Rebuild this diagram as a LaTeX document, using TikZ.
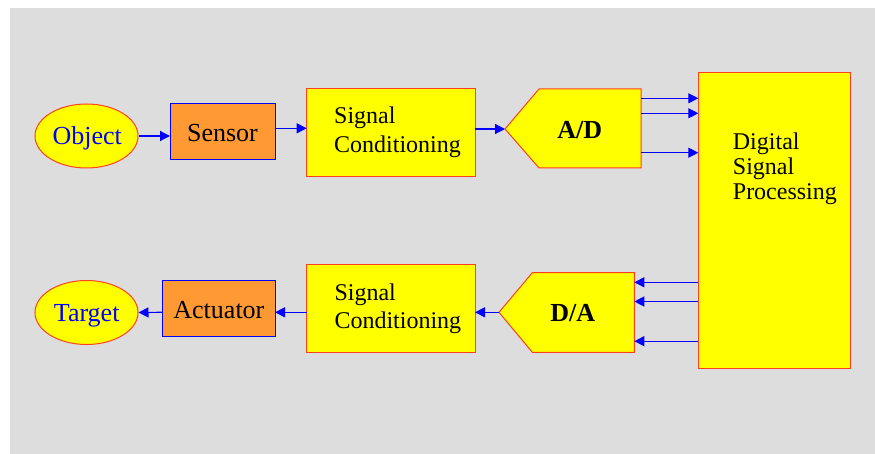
\documentclass[tikz,border=0pt]{standalone}
\usepackage{fontspec}
\setmainfont{Liberation Serif}
\usetikzlibrary{arrows.meta,shapes.geometric}
\definecolor{bggray}{HTML}{DDDDDD}
\definecolor{yel}{HTML}{FFFF00}
\definecolor{redb}{HTML}{FF4020}
\definecolor{orng}{HTML}{FF9933}
\definecolor{blu}{HTML}{0000FF}
\tikzset{
  ybox/.style={draw=redb,fill=yel,line width=1pt},
  obox/.style={draw=blu,fill=orng,line width=1pt},
  yell/.style={ellipse,draw=redb,fill=yel,line width=1pt,inner sep=0pt},
  big/.style={font=\fontsize{26}{31}\selectfont,inner sep=0pt,anchor=base},
  mid/.style={font=\fontsize{24}{28.7}\selectfont,inner sep=0pt,anchor=base west},
  arr/.style={draw=blu,line width=1.2pt,-{Triangle[length=10pt,width=10pt]}}
}
\begin{document}
\begin{tikzpicture}[x=1pt,y=-1pt]
\useasboundingbox (0,0) rectangle (875,454);
\fill[bggray] (10,8) rectangle (875,454);
% upper row
\node[yell,minimum width=103pt,minimum height=64pt] (obj) at (86.5,136) {};
\node[big,text=blu] (objt) at (87.2,145) {Object};
\draw[obox] (170,104) rectangle (275,160);
\coordinate (sensW) at (170,136);
\coordinate (sensE) at (275,128.3);
\node[big] (senst) at (222.5,141.7) {Sensor};
\draw[ybox] (306.7,88.3) rectangle (475,176.7);
\coordinate (sc1W) at (306.7,128.3);
\coordinate (sc1E) at (475,129);
\node[mid] (sc1a) at (334,124) {Signal};
\node[mid] (sc1b) at (334,152.7) {Conditioning};
\coordinate (adtip) at (505,129);
\draw[ybox] (adtip) -- (539,89) -- (641,89) -- (641,168) -- (539,168) -- cycle;
\node[big,font=\fontsize{26}{31}\selectfont\bfseries] (adt) at (579.7,138.3) {A/D};
\draw[ybox] (698.3,72.7) rectangle (850.7,368.3);
\node[mid] (dsp1) at (732.7,150) {Digital};
\node[mid] (dsp2) at (732.7,175) {Signal};
\node[mid] (dsp3) at (732.7,199.5) {Processing};
\coordinate (adE1) at (641,98.3);   \coordinate (dspW1) at (698.3,98.3);
\coordinate (adE2) at (641,113.3);  \coordinate (dspW2) at (698.3,113.3);
\coordinate (adE3) at (641,152.7);  \coordinate (dspW3) at (698.3,152.7);
\draw[arr] (obj.east) -- (sensW);
\draw[arr] (sensE) -- (sc1W);
\draw[arr] (sc1E) -- (adtip);
\draw[arr] (adE1) -- (dspW1);
\draw[arr] (adE2) -- (dspW2);
\draw[arr] (adE3) -- (dspW3);
% lower row
\node[yell,minimum width=103pt,minimum height=64pt] (tgt) at (86.5,312.5) {};
\node[big,text=blu] (tgtt) at (86.7,321.7) {Target};
\draw[obox] (162.7,280.7) rectangle (275,336.7);
\coordinate (actW) at (162.7,312.3);
\coordinate (actE) at (275,312.3);
\node[big] (actt) at (218.9,318.3) {Actuator};
\draw[ybox] (306.7,264.3) rectangle (475,352.3);
\coordinate (sc2W) at (306.7,312.3);
\coordinate (sc2E) at (475,312.3);
\node[mid] (sc2a) at (334.3,300) {Signal};
\node[mid] (sc2b) at (334.3,328.7) {Conditioning};
\coordinate (datip) at (499,312.3);
\draw[ybox] (datip) -- (532.3,272.7) -- (634.3,272.7) -- (634.3,352.3) -- (532.3,352.3) -- cycle;
\node[big,font=\fontsize{26}{31}\selectfont\bfseries] (dat) at (572.8,321.7) {D/A};
\coordinate (daE1) at (634.3,282.3);  \coordinate (dspB1) at (698.3,282.3);
\coordinate (daE2) at (634.3,301.5);  \coordinate (dspB2) at (698.3,301.5);
\coordinate (daE3) at (634.3,341.2);  \coordinate (dspB3) at (698.3,341.2);
\draw[arr] (dspB1) -- (daE1);
\draw[arr] (dspB2) -- (daE2);
\draw[arr] (dspB3) -- (daE3);
\draw[arr] (datip) -- (sc2E);
\draw[arr] (sc2W) -- (actE);
\draw[arr] (actW) -- (tgt.east);
\end{tikzpicture}
\end{document}
